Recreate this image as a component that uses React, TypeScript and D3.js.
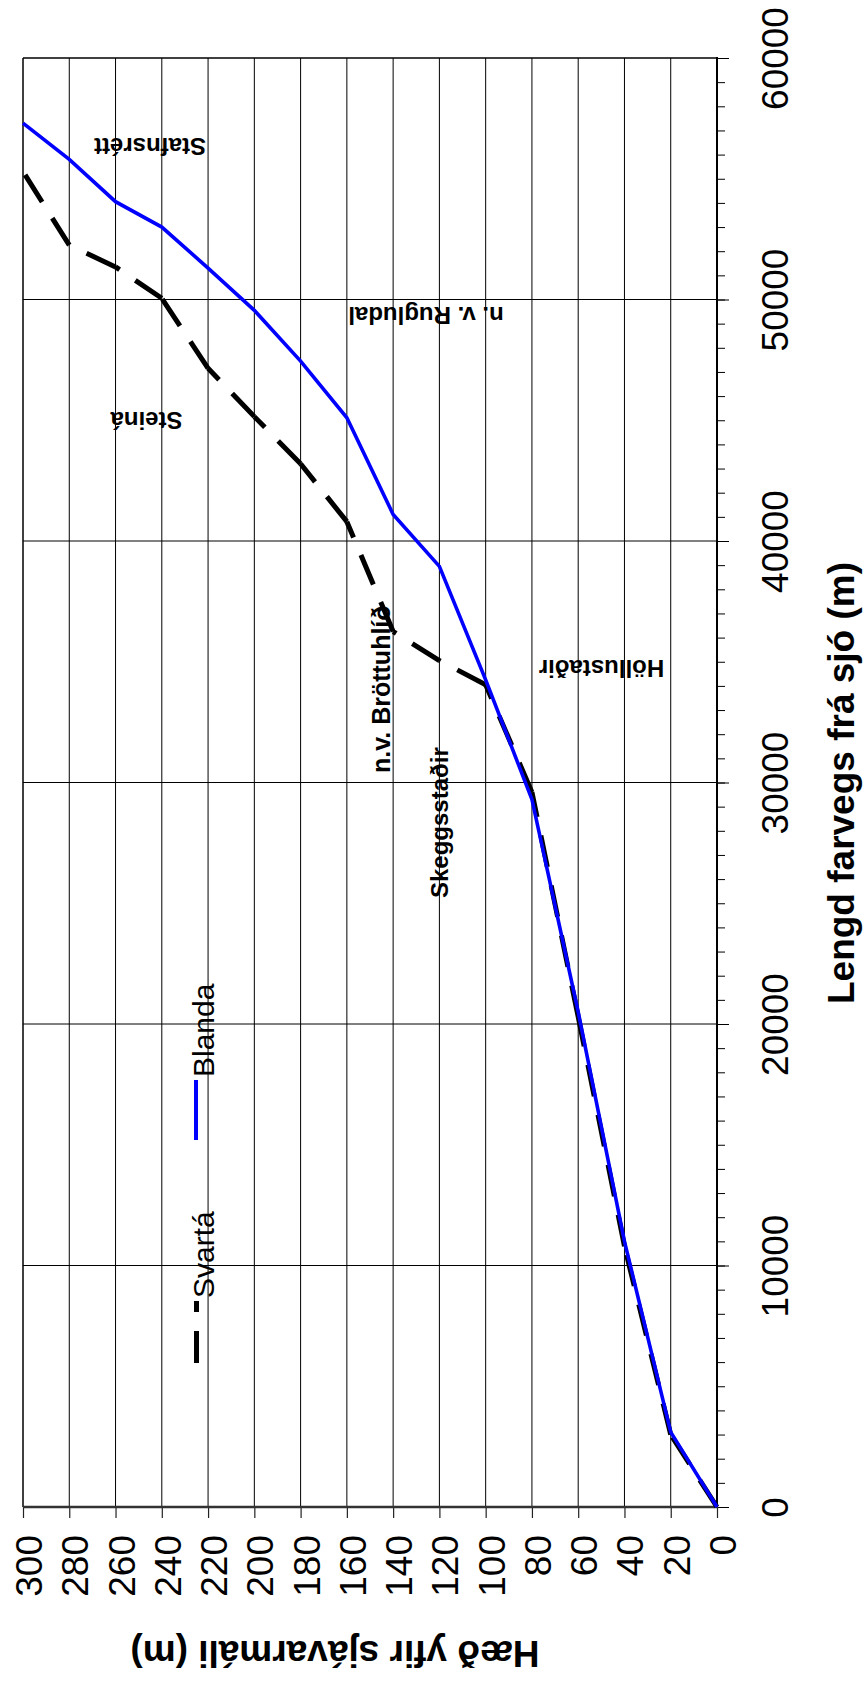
import React from "react";
import * as d3 from "d3";

// heights (m) at each survey point, shared by both rivers
const heights = [0, 20, 40, 60, 80, 100, 120, 140, 160, 180, 200, 220, 240, 260, 280, 300];
const blandaLength = [0, 3100, 11000, 20500, 29300, 34250, 38950, 41100, 45100, 47450, 49550, 51300, 53000, 54050, 55800, 57300];
const svartaLength = [0, 3000, 10800, 20300, 29600, 34050, 35050, 36250, 40800, 43200, 45150, 47150, 50050, 51350, 52250, 55300];

const heightTicks = [0, 20, 40, 60, 80, 100, 120, 140, 160, 180, 200, 220, 240, 260, 280, 300];
const lengthTicks = [0, 10000, 20000, 30000, 40000, 50000, 60000];

const places = [
  { name: "Stafnsrétt", x: 150, y: 137.5, rot: 180, bold: true, size: 24, anchor: "middle" },
  { name: "Steiná", x: 146.5, y: 412, rot: 180, bold: true, size: 24, anchor: "middle" },
  { name: "n. v. Rugludal", x: 426, y: 307, rot: 180, bold: true, size: 24, anchor: "middle" },
  { name: "Höllustaðir", x: 601.5, y: 660, rot: 180, bold: true, size: 24, anchor: "middle" },
  { name: "n.v. Bröttuhlíð", x: 390, y: 773, rot: -90, bold: true, size: 25, anchor: "start" },
  { name: "Skeggsstaðir", x: 447.5, y: 898, rot: -90, bold: true, size: 24, anchor: "start" },
];

const FONT = "'Liberation Sans', Arial, sans-serif";

const App = () => {
  const svgRef = React.useRef(null);

  React.useEffect(() => {
    const svg = d3.select(svgRef.current);
    svg.selectAll("*").remove();

    // chart is drawn turned a quarter: height runs right->left, length bottom->top
    const x = d3.scaleLinear().domain([0, 300]).range([717, 23]);
    const y = d3.scaleLinear().domain([0, 60000]).range([1507, 58]);

    svg.append("rect").attr("width", 866).attr("height", 1682).attr("fill", "#fff");

    // grid
    svg
      .append("g")
      .selectAll("line")
      .data(heightTicks.slice(1, -1))
      .enter()
      .append("line")
      .attr("x1", (d) => x(d))
      .attr("x2", (d) => x(d))
      .attr("y1", y(60000))
      .attr("y2", y(0))
      .attr("stroke", "#000")
      .attr("stroke-width", 1);
    svg
      .append("g")
      .selectAll("line")
      .data(lengthTicks.slice(1, -1))
      .enter()
      .append("line")
      .attr("x1", x(300))
      .attr("x2", x(0))
      .attr("y1", (d) => y(d))
      .attr("y2", (d) => y(d))
      .attr("stroke", "#000")
      .attr("stroke-width", 1);

    // frame
    svg.append("line").attr("x1", x(300)).attr("x2", x(300)).attr("y1", y(60000)).attr("y2", y(0)).attr("stroke", "#000").attr("stroke-width", 1.5);
    svg.append("line").attr("x1", x(300)).attr("x2", x(0)).attr("y1", y(60000)).attr("y2", y(60000)).attr("stroke", "#000").attr("stroke-width", 1.5);

    // length axis (right side)
    const minorAxis = d3.axisRight(y).tickValues(d3.range(0, 60001, 1000)).tickSize(8).tickFormat(() => "");
    const minorG = svg.append("g").attr("transform", `translate(${x(0)},0)`).call(minorAxis);
    minorG.select(".domain").remove();
    minorG.selectAll("line").attr("stroke", "#000").attr("stroke-width", 1);

    const lenAxis = d3.axisRight(y).tickValues(lengthTicks).tickSize(12).tickFormat(d3.format("d"));
    const lenG = svg.append("g").attr("transform", `translate(${x(0)},0)`).call(lenAxis);
    lenG.select(".domain").remove();
    lenG.selectAll("line").attr("stroke", "#000").attr("stroke-width", 1);
    lenG
      .selectAll("text")
      .attr("x", null)
      .attr("dy", null)
      .attr("transform", "translate(71,0) rotate(-90)")
      .attr("text-anchor", "middle")
      .attr("fill", "#000")
      .attr("font-family", FONT)
      .attr("font-size", 37);

    // height axis (bottom)
    const hAxis = d3.axisBottom(x).tickValues(heightTicks).tickSize(11).tickFormat(d3.format("d"));
    const hG = svg.append("g").attr("transform", `translate(0,${y(0)})`).call(hAxis);
    hG.select(".domain").remove();
    hG.selectAll("line").attr("stroke", "#222").attr("stroke-width", 1.2);
    hG
      .selectAll("text")
      .attr("y", null)
      .attr("dy", null)
      .attr("transform", "translate(18.5,28) rotate(-90)")
      .attr("text-anchor", "end")
      .attr("fill", "#000")
      .attr("font-family", FONT)
      .attr("font-size", 37);

    svg.append("line").attr("x1", x(300)).attr("x2", x(0) + 1).attr("y1", y(0)).attr("y2", y(0)).attr("stroke", "#333").attr("stroke-width", 2.5);
    svg.append("line").attr("x1", x(0)).attr("x2", x(0)).attr("y1", y(60000) - 1).attr("y2", y(0)).attr("stroke", "#000").attr("stroke-width", 2);

    // Svartá, dash pattern restarts on every segment
    const seg = d3
      .line()
      .x((d) => x(d[1]))
      .y((d) => y(d[0]));
    const svarta = svartaLength.map((l, i) => [l, heights[i]]);
    const sg = svg.append("g");
    for (let i = 0; i < svarta.length - 1; i++) {
      sg.append("path")
        .attr("d", seg([svarta[i], svarta[i + 1]]))
        .attr("fill", "none")
        .attr("stroke", "#000")
        .attr("stroke-width", 5)
        .attr("stroke-dasharray", "32,19");
    }

    const blanda = blandaLength.map((l, i) => [l, heights[i]]);
    svg
      .append("path")
      .datum(blanda)
      .attr("d", seg)
      .attr("fill", "none")
      .attr("stroke", "#0000ff")
      .attr("stroke-width", 3.6)
      .attr("stroke-linejoin", "miter");

    // place names
    svg
      .append("g")
      .selectAll("text")
      .data(places)
      .enter()
      .append("text")
      .attr("transform", (d) => `translate(${d.x},${d.y}) rotate(${d.rot})`)
      .attr("text-anchor", (d) => d.anchor)
      .attr("font-family", FONT)
      .attr("font-weight", (d) => (d.bold ? "bold" : "normal"))
      .attr("font-size", (d) => d.size)
      .text((d) => d.name);

    // legend
    svg.append("line").attr("x1", 196.5).attr("x2", 196.5).attr("y1", 1363).attr("y2", 1301).attr("stroke", "#000").attr("stroke-width", 5).attr("stroke-dasharray", "32,19");
    svg.append("text").attr("transform", "translate(214,1298) rotate(-90)").attr("font-family", FONT).attr("font-size", 30).text("Svartá");
    svg.append("line").attr("x1", 196).attr("x2", 196).attr("y1", 1140).attr("y2", 1080).attr("stroke", "#0000ff").attr("stroke-width", 4);
    svg.append("text").attr("transform", "translate(214,1077) rotate(-90)").attr("font-family", FONT).attr("font-size", 30).text("Blanda");

    // axis titles
    svg
      .append("text")
      .attr("transform", "translate(854,783) rotate(-90)")
      .attr("text-anchor", "middle")
      .attr("font-family", FONT)
      .attr("font-weight", "bold")
      .attr("font-size", 37)
      .text("Lengd farvegs frá sjó (m)");
    svg
      .append("text")
      .attr("transform", "translate(335,1641) rotate(180)")
      .attr("text-anchor", "middle")
      .attr("font-family", FONT)
      .attr("font-weight", "bold")
      .attr("font-size", 37)
      .text("Hæð yfir sjávarmáli (m)");
  }, []);

  return (
    <svg
      ref={svgRef}
      width={866}
      height={1682}
      style={{ position: "absolute", left: 0, top: 0, display: "block" }}
    />
  );
};

export default App;
